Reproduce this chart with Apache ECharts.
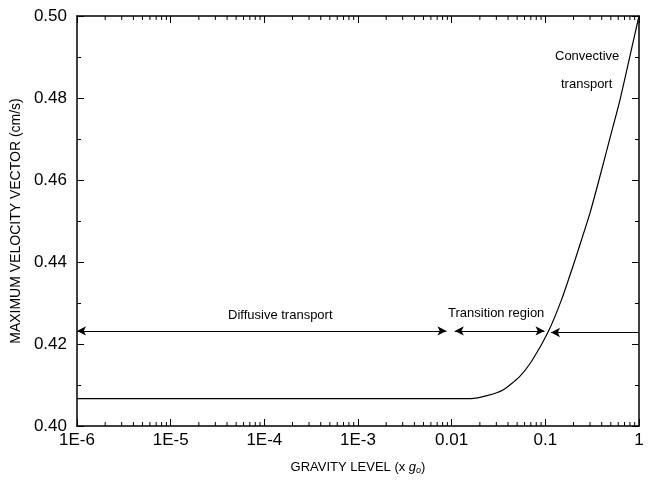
<!DOCTYPE html>
<html>
<head>
<meta charset="utf-8">
<script src="https://cdn.jsdelivr.net/npm/echarts@6/dist/echarts.min.js"></script>
<style>
html,body{margin:0;padding:0;background:#fff;}
#chart{width:652px;height:484px;}
</style>
</head>
<body>
<div id="chart"></div>
<script>
// ---- data ----
var gravity = [1e-6, 1e-5, 1e-4, 1e-3, 0.01, 0.016, 0.0238, 0.0353, 0.0528, 0.0727, 0.107, 0.15, 0.2075, 0.2244, 0.3, 0.374, 0.5, 0.626, 0.8, 1];
var velocity = [0.4067, 0.4067, 0.4067, 0.4067, 0.4067, 0.4067, 0.4074, 0.4088, 0.4120, 0.4161, 0.4229, 0.4310, 0.4405, 0.4429, 0.4520, 0.4600, 0.4710, 0.4795, 0.4902, 0.5000];

var xTickValues = [1e-6, 1e-5, 1e-4, 1e-3, 0.01, 0.1, 1];
var xTickLabels = ['1E-6', '1E-5', '1E-4', '1E-3', '0.01', '0.1', '1'];
var yTickValues = [0.40, 0.42, 0.44, 0.46, 0.48, 0.50];
var yTickLabels = ['0.40', '0.42', '0.44', '0.46', '0.48', '0.50'];
var minorMultipliers = [2, 3, 4, 5, 6, 7, 8, 9];

// region arrows: [startG, endG, value]
var diffusiveArrow = [1e-6, 0.0088, 0.4232];
var transitionArrow = [0.0108, 0.098, 0.4232];
var convectiveArrow = [0.115, 1, 0.4228];

var regionLabels = ['Diffusive transport', 'Transition region', 'Convective', 'transport'];

// ---- derived ----
var curve = gravity.map(function (g, i) { return [g, velocity[i]]; });
var minorTicks = [];
for (var d = 0; d < xTickValues.length - 1; d++) {
  minorMultipliers.forEach(function (m) { minorTicks.push([xTickValues[d] * m, 0.40]); });
}
function xLabel(v) {
  for (var i = 0; i < xTickValues.length; i++) {
    if (Math.abs(Math.log10(v) - Math.log10(xTickValues[i])) < 1e-6) return xTickLabels[i];
  }
  return '';
}
function yLabel(v) {
  for (var i = 0; i < yTickValues.length; i++) {
    if (Math.abs(v - yTickValues[i]) < 1e-6) return yTickLabels[i];
  }
  return '';
}

var FONT = 'Liberation Sans, Arial, Helvetica, sans-serif';
var chart = echarts.init(document.getElementById('chart'));

var axisLine = { show: true, onZero: false, lineStyle: { color: '#000', width: 1.5 } };

var option = {
  animation: false,
  backgroundColor: '#fff',
  grid: { left: 77, right: 13, top: 16, bottom: 58, containLabel: false },
  xAxis: [{
    type: 'log', min: 1e-6, max: 1, logBase: 10, splitNumber: 6,
    axisLine: axisLine,
    axisTick: { show: true, inside: true, length: 7, lineStyle: { color: '#000', width: 1 } },
    splitLine: { show: false },
    axisLabel: { formatter: xLabel, color: '#000', fontSize: 17, fontFamily: FONT, margin: 6 },
    name: 'GRAVITY LEVEL (x {i|g}{s|o})',
    nameLocation: 'middle', nameGap: 34,
    nameTextStyle: {
      color: '#000', fontSize: 13, fontFamily: FONT,
      rich: {
        i: { fontStyle: 'italic', fontSize: 13, fontFamily: FONT, color: '#000' },
        s: { fontStyle: 'italic', fontSize: 9, fontFamily: FONT, color: '#000', verticalAlign: 'bottom', padding: [6, 0, 0, 0] }
      }
    }
  }, {
    type: 'log', min: 1e-6, max: 1, logBase: 10, splitNumber: 6, position: 'top',
    axisLine: axisLine,
    axisTick: { show: true, inside: true, length: 7, lineStyle: { color: '#000', width: 1 } },
    splitLine: { show: false },
    axisLabel: { show: false }
  }],
  yAxis: [{
    type: 'value', min: 0.40, max: 0.50, interval: 0.02,
    axisLine: axisLine,
    axisTick: { show: true, inside: true, length: 7, lineStyle: { color: '#000', width: 1 } },
    minorTick: { show: true, splitNumber: 2, length: 4, lineStyle: { color: '#000', width: 1 } },
    splitLine: { show: false },
    axisLabel: { formatter: yLabel, color: '#000', fontSize: 17, fontFamily: FONT, margin: 10 },
    name: 'MAXIMUM VELOCITY VECTOR (cm/s)',
    nameLocation: 'middle', nameGap: 50,
    nameTextStyle: { color: '#000', fontSize: 14, fontFamily: FONT }
  }, {
    type: 'value', min: 0.40, max: 0.50, interval: 0.02, position: 'right',
    axisLine: axisLine,
    axisTick: { show: true, inside: true, length: 7, lineStyle: { color: '#000', width: 1 } },
    minorTick: { show: true, splitNumber: 2, length: 4, lineStyle: { color: '#000', width: 1 } },
    splitLine: { show: false },
    axisLabel: { show: false }
  }],
  series: [{
    type: 'line',
    data: curve,
    showSymbol: false,
    smooth: 0.2,
    lineStyle: { color: '#000', width: 1.2 },
    z: 3,
    markLine: {
      silent: true,
      symbol: ['arrow', 'arrow'],
      symbolSize: [7, 9],
      label: { show: false },
      lineStyle: { color: '#000', width: 1.2, type: 'solid' },
      data: [
        [{ coord: [diffusiveArrow[0], diffusiveArrow[2]] }, { coord: [diffusiveArrow[1], diffusiveArrow[2]] }],
        [{ coord: [transitionArrow[0], transitionArrow[2]] }, { coord: [transitionArrow[1], transitionArrow[2]] }],
        [{ coord: [convectiveArrow[0], convectiveArrow[2]], symbol: 'arrow' }, { coord: [convectiveArrow[1], convectiveArrow[2]], symbol: 'none' }]
      ]
    }
  }, {
    type: 'custom',
    silent: true,
    data: minorTicks,
    clip: false,
    renderItem: function (params, api) {
      var g = api.value(0);
      var b = api.coord([g, 0.40]);
      var t = api.coord([g, 0.50]);
      var s = { stroke: '#000', lineWidth: 1 };
      return {
        type: 'group',
        children: [
          { type: 'line', shape: { x1: b[0], y1: b[1], x2: b[0], y2: b[1] - 4 }, style: s },
          { type: 'line', shape: { x1: t[0], y1: t[1], x2: t[0], y2: t[1] + 4 }, style: s }
        ]
      };
    }
  }],
  graphic: [
    { type: 'text', left: 228, top: 309, style: { text: regionLabels[0], fill: '#000', font: '13px ' + FONT } },
    { type: 'text', left: 448, top: 307, style: { text: regionLabels[1], fill: '#000', font: '13px ' + FONT } },
    { type: 'text', left: 555, top: 50, style: { text: regionLabels[2], fill: '#000', font: '13px ' + FONT } },
    { type: 'text', left: 561, top: 78, style: { text: regionLabels[3], fill: '#000', font: '13px ' + FONT } }
  ]
};
chart.setOption(option);
</script>
</body>
</html>
